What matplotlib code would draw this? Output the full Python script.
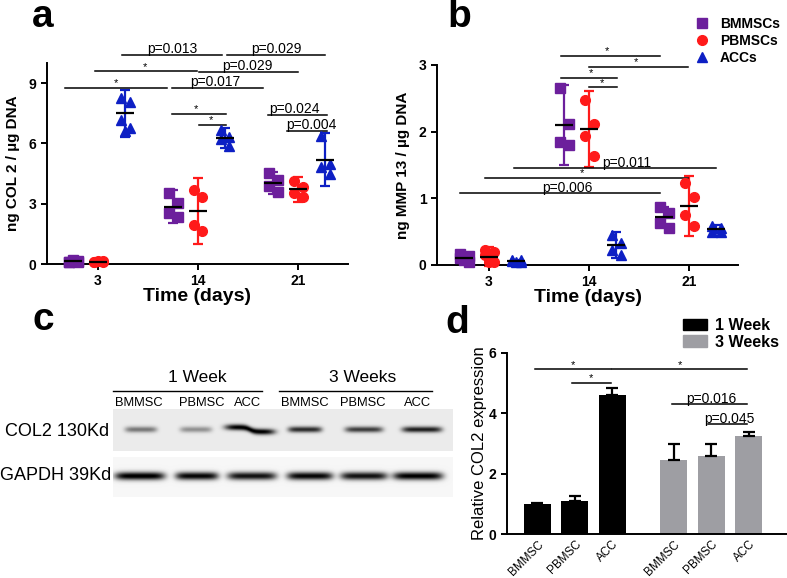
import numpy as np
import matplotlib
matplotlib.use('Agg')
import matplotlib.pyplot as plt
from matplotlib.lines import Line2D
from matplotlib.patches import Patch

plt.rcParams['font.family'] = ['Liberation Sans', 'DejaVu Sans']

# ---- data ----
days = ['3', '14', '21']
groups = ['BMMSCs', 'PBMSCs', 'ACCs']
colors = ['#6c1f9c', '#ff1a1a', '#0d1fc4']
markers = ['s', 'o', '^']
offs = [-0.25, 0.0, 0.27]

# panel a: ng COL 2 / ug DNA (points per day, per group)
col2_bm = [[0.10, 0.15, 0.12, 0.08, 0.18], [3.55, 3.05, 2.55, 2.35], [4.55, 4.2, 3.9, 3.6]]
col2_pb = [[0.10, 0.14, 0.12, 0.09, 0.15], [3.7, 3.33, 1.95, 1.62], [4.15, 3.85, 3.55, 3.35]]
col2_acc = [[8.25, 8.05, 7.15, 6.75, 6.6], [6.65, 6.3, 6.2, 5.85], [6.35, 5.0, 4.85, 4.5]]
col2_mean = [[0.13, 2.86, 4.03], [0.12, 2.65, 3.72], [7.5, 6.26, 5.19]]
col2_err = [[0.05, 0.82, 0.57], [0.05, 1.64, 0.63], [1.17, 0.5, 1.31]]

# panel b: ng MMP 13 / ug DNA
mmp_bm = [[0.17, 0.14, 0.10, 0.05, 0.07], [2.65, 2.12, 1.85, 1.8], [0.875, 0.775, 0.625, 0.55]]
mmp_pb = [[0.22, 0.20, 0.15, 0.05, 0.05], [2.475, 2.115, 1.935, 1.63], [1.225, 1.015, 0.75, 0.585]]
mmp_acc = [[0.08, 0.07, 0.06, 0.05, 0.04], [0.45, 0.33, 0.22, 0.15], [0.58, 0.55, 0.5, 0.5]]
mmp_mean = [[0.1, 2.1, 0.715], [0.125, 2.04, 0.885], [0.06, 0.3, 0.535]]
mmp_err = [[0.05, 0.6, 0.15], [0.14, 0.57, 0.45], [0.02, 0.2, 0.06]]

# significance bars: x1, x2, y, label, text x
sig_a = [(-0.33, 0.69, 8.78, '*', 0.18), (-0.03, 0.99, 9.58, '*', 0.47),
         (0.24, 1.24, 10.4, 'p=0.013', 0.74), (1.29, 2.27, 10.4, 'p=0.029', 1.78),
         (1.01, 2.0, 9.55, 'p=0.029', 1.49), (0.74, 1.65, 8.75, 'p=0.017', 1.17),
         (0.74, 1.28, 7.46, '*', 0.98), (1.01, 1.28, 6.93, '*', 1.13),
         (1.70, 2.29, 7.43, 'p=0.024', 1.96), (1.89, 2.29, 6.63, 'p=0.004', 2.13)]
sig_b = [(0.72, 1.71, 3.14, '*', 1.18), (1.0, 1.99, 2.975, '*', 1.47),
         (0.72, 1.28, 2.81, '*', 1.02), (1.0, 1.28, 2.665, '*', 1.13),
         (0.25, 2.27, 1.45, 'p=0.011', 1.38), (-0.04, 1.99, 1.31, '*', 0.93),
         (-0.29, 1.71, 1.075, 'p=0.006', 0.78)]

# panel d: relative COL2 expression
d_labels = ['BMMSC', 'PBMSC', 'ACC']
week1 = [0.98, 1.09, 4.6]
week1_err = [0.03, 0.17, 0.22]
week3 = [2.45, 2.59, 3.24]
week3_err = [0.52, 0.38, 0.12]
sig_d = [(-0.07, 1.95, 5.45, '*', 0.95), (2.0, 5.58, 5.45, '*', 3.8),
         (0.91, 1.95, 5.0, '*', 1.44), (3.58, 5.58, 4.29, 'p=0.016', 4.64),
         (4.55, 5.58, 3.63, 'p=0.045', 5.12)]

# panel c: western blot band strengths
lanes = ['BMMSC', 'PBMSC', 'ACC', 'BMMSC', 'PBMSC', 'ACC']
col2_x = [141, 196, 250, 305, 364, 422]
col2_w = [32, 32, 50, 34, 38, 40]
col2_dark = [0.45, 0.35, 0.95, 0.75, 0.68, 0.8]
col2_step = [0, 0, 4.5, 0, 0, 0]
gapdh_x = [140, 197, 252, 310, 364, 418]
gapdh_w = [50, 43, 49, 46, 47, 50]
gapdh_dark = [1.0, 0.95, 0.9, 0.95, 0.9, 0.98]
lane_lab_x = [139, 202, 248, 305, 363, 418]

W, H = 787, 578
fig = plt.figure(figsize=(W / 100, H / 100), dpi=100)

# overlay in pixel coordinates for blot and panel letters
ov = fig.add_axes([0, 0, 1, 1])


def strip(x0, x1, y0, y1, cy, xs, ws, dark, step, bg, hh):
    xx, yy = np.meshgrid(np.arange(x0, x1) + 0.5, np.arange(y0, y1) + 0.5)
    img = np.full(xx.shape, bg)
    for cx, w, a, s in zip(xs, ws, dark, step):
        yc = cy - s / 2 + s / (1 + np.exp(-(xx - cx) / 2.5))
        prof = np.exp(-((xx - cx) / (w / 2)) ** 6) * np.exp(-((yy - yc) / hh) ** 2)
        img = img - a * prof
    img = np.clip(img, 0, 1)
    ov.imshow(img, cmap='gray', vmin=0, vmax=1, extent=(x0, x1, y1, y0),
              interpolation='bilinear', aspect='auto')


strip(113, 453, 409, 451, 429.5, col2_x, col2_w, col2_dark, col2_step, 0.92, 3.0)
strip(113, 453, 457, 497, 476, gapdh_x, gapdh_w, gapdh_dark, [0] * 6, 0.965, 4.0)
ov.set_xlim(0, W)
ov.set_ylim(H, 0)
ov.axis('off')

for s, (x, y) in zip('abcd', [(32, 27), (447, 27), (32, 330), (445, 333)]):
    ov.text(x, y, s, fontsize=28, fontweight='bold', va='baseline', ha='left')

ov.text(197, 378, '1 Week', fontsize=12.5, ha='center', va='center')
ov.text(363, 378, '3 Weeks', fontsize=12.5, ha='center', va='center')
ov.plot([113, 262], [391, 391], color='k', lw=1)
ov.plot([279, 432], [391, 391], color='k', lw=1)
for lx, lab in zip(lane_lab_x, lanes):
    ov.text(lx, 403, lab, fontsize=9.3, ha='center', va='center')
ov.text(109, 431, 'COL2 130Kd', fontsize=13, ha='right', va='center')
ov.text(111, 475, 'GAPDH 39Kd', fontsize=13, ha='right', va='center')


def style(ax):
    for sp in ['top', 'right']:
        ax.spines[sp].set_visible(False)
    for sp in ['left', 'bottom']:
        ax.spines[sp].set_linewidth(1.4)
    ax.tick_params(direction='out', length=4, width=1.4, labelsize=10)
    for t in ax.get_xticklabels() + ax.get_yticklabels():
        t.set_fontweight('bold')
    ax.set_facecolor('none')


def sig(ax, rows, fs_p=10, fs_s=8):
    for x1, x2, y, lab, tx in rows:
        ax.plot([x1, x2], [y, y], color='k', lw=1.1, clip_on=False)
        ax.annotate(lab, xy=(tx, y), xytext=(0, 1.2), textcoords='offset points',
                    ha='center', va='baseline', fontsize=fs_p if lab != '*' else fs_s,
                    annotation_clip=False)


def dots(ax, pts_list, means, errs):
    for gi, pts in enumerate(pts_list):
        for di in range(3):
            x = di + offs[gi]
            y = pts[di]
            spread = [-0.045, 0.045, -0.045, 0.045, 0.0][:len(y)]
            ax.plot(x + np.array(spread), y, ls='none', marker=markers[gi], ms=7,
                    color=colors[gi], zorder=3, clip_on=False)
            ax.errorbar(x, means[gi][di], yerr=errs[gi][di], fmt='none', ecolor=colors[gi],
                        elinewidth=1.6, capsize=3.3, capthick=1.6, zorder=2, clip_on=False)
            ax.hlines(means[gi][di], x - 0.09, x + 0.09, color='k', lw=1.6, zorder=4)
    ax.set_xticks(range(3))
    ax.set_xticklabels(days)
    ax.set_xlabel('Time (days)', fontsize=14, fontweight='bold', labelpad=0)


# panel a
ax_a = fig.add_axes([47 / W, 1 - 264 / H, 301 / W, 201 / H])
dots(ax_a, [col2_bm, col2_pb, col2_acc], col2_mean, col2_err)
ax_a.set_xlim(-0.51, 2.5)
ax_a.set_ylim(0, 10)
ax_a.set_yticks([0, 3, 6, 9])
ax_a.set_ylabel('ng COL 2 / µg DNA', fontsize=11, fontweight='bold', labelpad=6)
sig(ax_a, sig_a)
style(ax_a)

# panel b
ax_b = fig.add_axes([437 / W, 1 - 265 / H, 301 / W, 200 / H])
dots(ax_b, [mmp_bm, mmp_pb, mmp_acc], mmp_mean, mmp_err)
ax_b.set_xlim(-0.52, 2.49)
ax_b.set_ylim(0, 3)
ax_b.set_yticks([0, 1, 2, 3])
ax_b.set_ylabel('ng MMP 13 / µg DNA', fontsize=11, fontweight='bold', labelpad=6)
sig(ax_b, sig_b)
style(ax_b)

handles = [Line2D([], [], ls='none', marker=m, color=c, ms=7) for m, c in zip(markers, colors)]
leg = fig.legend(handles, groups, loc='upper left', bbox_to_anchor=(695 / W, 1 - 17 / H),
                 frameon=False, borderpad=0, borderaxespad=0, handlelength=1.0,
                 handletextpad=0.8, labelspacing=0.2, prop={'size': 10, 'weight': 'bold'})

# panel d
ax_d = fig.add_axes([507 / W, 1 - 534 / H, 280 / W, 181.3 / H])
x1 = np.arange(3)
x3 = np.arange(3) + 3.63
ax_d.bar(x1, week1, width=0.72, color='black', zorder=2)
ax_d.bar(x3, week3, width=0.72, color='#9e9ea3', zorder=2)
ax_d.errorbar(x1, week1, yerr=[[0] * 3, week1_err], fmt='none', ecolor='k',
              elinewidth=1.6, capsize=4.3, capthick=1.6, zorder=3)
ax_d.errorbar(x3, week3, yerr=[[0] * 3, week3_err], fmt='none', ecolor='k',
              elinewidth=1.6, capsize=4.3, capthick=1.6, zorder=3)
ax_d.set_xlim(-0.81, 6.65)
ax_d.set_ylim(0, 6)
ax_d.set_yticks([0, 2, 4, 6])
ax_d.set_xticks(list(x1) + list(x3))
ax_d.set_xticklabels(d_labels * 2)
ax_d.set_ylabel('Relative COL2 expression', fontsize=12, labelpad=1)
sig(ax_d, sig_d)
style(ax_d)
ax_d.tick_params(axis='x', length=0, pad=3)
for t in ax_d.get_xticklabels():
    t.set_fontweight('normal')
    t.set_fontsize(8.5)
    t.set_rotation(45)
    t.set_ha('right')
    t.set_rotation_mode('anchor')

dh = [Patch(color='black'), Patch(color='#9e9ea3')]
fig.legend(dh, ['1 Week', '3 Weeks'], loc='upper left', bbox_to_anchor=(683 / W, 1 - 318 / H),
           frameon=False, borderpad=0, borderaxespad=0, handlelength=1.5, handleheight=0.75,
           handletextpad=0.5, labelspacing=0.1, prop={'size': 11.5, 'weight': 'bold'})

fig.savefig('out.png', dpi=100)
